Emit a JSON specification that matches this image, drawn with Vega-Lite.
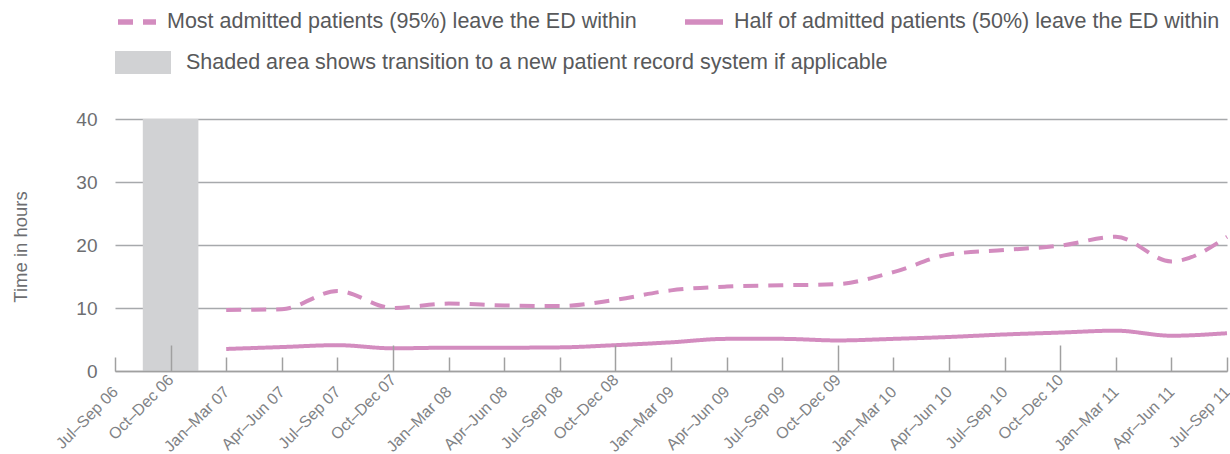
{
  "$schema": "https://vega.github.io/schema/vega-lite/v6.json",
  "width": 1112,
  "height": 252,
  "autosize": {"type": "none"},
  "padding": {"left": 115, "top": 119, "right": 3, "bottom": 83},
  "background": "white",
  "config": {"view": {"stroke": null}, "font": "Liberation Sans"},
  "datasets": {
    "times": [
      {"period": "Jan–Mar 07", "series": "Most admitted patients (95%) leave the ED within", "hours": 9.7},
      {"period": "Apr–Jun 07", "series": "Most admitted patients (95%) leave the ED within", "hours": 9.8},
      {"period": "Jul–Sep 07", "series": "Most admitted patients (95%) leave the ED within", "hours": 12.7},
      {"period": "Oct–Dec 07", "series": "Most admitted patients (95%) leave the ED within", "hours": 10.0},
      {"period": "Jan–Mar 08", "series": "Most admitted patients (95%) leave the ED within", "hours": 10.7},
      {"period": "Apr–Jun 08", "series": "Most admitted patients (95%) leave the ED within", "hours": 10.4},
      {"period": "Jul–Sep 08", "series": "Most admitted patients (95%) leave the ED within", "hours": 10.3},
      {"period": "Oct–Dec 08", "series": "Most admitted patients (95%) leave the ED within", "hours": 11.3},
      {"period": "Jan–Mar 09", "series": "Most admitted patients (95%) leave the ED within", "hours": 12.8},
      {"period": "Apr–Jun 09", "series": "Most admitted patients (95%) leave the ED within", "hours": 13.4},
      {"period": "Jul–Sep 09", "series": "Most admitted patients (95%) leave the ED within", "hours": 13.6},
      {"period": "Oct–Dec 09", "series": "Most admitted patients (95%) leave the ED within", "hours": 13.8},
      {"period": "Jan–Mar 10", "series": "Most admitted patients (95%) leave the ED within", "hours": 15.7},
      {"period": "Apr–Jun 10", "series": "Most admitted patients (95%) leave the ED within", "hours": 18.5},
      {"period": "Jul–Sep 10", "series": "Most admitted patients (95%) leave the ED within", "hours": 19.2},
      {"period": "Oct–Dec 10", "series": "Most admitted patients (95%) leave the ED within", "hours": 19.9},
      {"period": "Jan–Mar 11", "series": "Most admitted patients (95%) leave the ED within", "hours": 21.3},
      {"period": "Apr–Jun 11", "series": "Most admitted patients (95%) leave the ED within", "hours": 17.4},
      {"period": "Jul–Sep 11", "series": "Most admitted patients (95%) leave the ED within", "hours": 21.3},
      {"period": "Jan–Mar 07", "series": "Half of admitted patients (50%) leave the ED within", "hours": 3.5},
      {"period": "Apr–Jun 07", "series": "Half of admitted patients (50%) leave the ED within", "hours": 3.8},
      {"period": "Jul–Sep 07", "series": "Half of admitted patients (50%) leave the ED within", "hours": 4.1},
      {"period": "Oct–Dec 07", "series": "Half of admitted patients (50%) leave the ED within", "hours": 3.6},
      {"period": "Jan–Mar 08", "series": "Half of admitted patients (50%) leave the ED within", "hours": 3.7},
      {"period": "Apr–Jun 08", "series": "Half of admitted patients (50%) leave the ED within", "hours": 3.7},
      {"period": "Jul–Sep 08", "series": "Half of admitted patients (50%) leave the ED within", "hours": 3.75},
      {"period": "Oct–Dec 08", "series": "Half of admitted patients (50%) leave the ED within", "hours": 4.1},
      {"period": "Jan–Mar 09", "series": "Half of admitted patients (50%) leave the ED within", "hours": 4.55},
      {"period": "Apr–Jun 09", "series": "Half of admitted patients (50%) leave the ED within", "hours": 5.1},
      {"period": "Jul–Sep 09", "series": "Half of admitted patients (50%) leave the ED within", "hours": 5.1},
      {"period": "Oct–Dec 09", "series": "Half of admitted patients (50%) leave the ED within", "hours": 4.85},
      {"period": "Jan–Mar 10", "series": "Half of admitted patients (50%) leave the ED within", "hours": 5.1},
      {"period": "Apr–Jun 10", "series": "Half of admitted patients (50%) leave the ED within", "hours": 5.4},
      {"period": "Jul–Sep 10", "series": "Half of admitted patients (50%) leave the ED within", "hours": 5.8},
      {"period": "Oct–Dec 10", "series": "Half of admitted patients (50%) leave the ED within", "hours": 6.1},
      {"period": "Jan–Mar 11", "series": "Half of admitted patients (50%) leave the ED within", "hours": 6.4},
      {"period": "Apr–Jun 11", "series": "Half of admitted patients (50%) leave the ED within", "hours": 5.6},
      {"period": "Jul–Sep 11", "series": "Half of admitted patients (50%) leave the ED within", "hours": 6.0}
    ],
    "shade": [
      {"period": "Oct–Dec 06", "hours": 40, "note": "Shaded area shows transition to a new patient record system if applicable"}
    ]
  },
  "encoding": {
    "x": {
      "field": "period",
      "type": "ordinal",
      "scale": {
        "type": "point",
        "padding": 0,
        "domain": ["Jul–Sep 06", "Oct–Dec 06", "Jan–Mar 07", "Apr–Jun 07", "Jul–Sep 07", "Oct–Dec 07", "Jan–Mar 08", "Apr–Jun 08", "Jul–Sep 08", "Oct–Dec 08", "Jan–Mar 09", "Apr–Jun 09", "Jul–Sep 09", "Oct–Dec 09", "Jan–Mar 10", "Apr–Jun 10", "Jul–Sep 10", "Oct–Dec 10", "Jan–Mar 11", "Apr–Jun 11", "Jul–Sep 11"]
      },
      "axis": {
        "title": null,
        "grid": false,
        "domain": true,
        "domainColor": "#a0a0a0",
        "domainWidth": 1.5,
        "ticks": true,
        "tickColor": "#a0a0a0",
        "tickWidth": 1.5,
        "tickSize": {"condition": {"test": "indexof(datum.value, 'Oct') == 0", "value": -26}, "value": -14},
        "labelAngle": -45,
        "labelAlign": "right",
        "labelBaseline": "middle",
        "labelFontSize": 16,
        "labelColor": "#808285",
        "labelPadding": 32,
        "labelOverlap": false,
        "zindex": 1
      }
    },
    "y": {
      "field": "hours",
      "type": "quantitative",
      "scale": {"domain": [0, 40], "nice": false},
      "axis": {
        "title": "Time in hours",
        "values": [0, 10, 20, 30, 40],
        "grid": true,
        "gridColor": "#a7a9ac",
        "gridWidth": 1.5,
        "domain": false,
        "ticks": false,
        "labelFontSize": 19,
        "labelColor": "#6d6e71",
        "labelPadding": 18,
        "titleFontSize": 18.5,
        "titleFontWeight": "normal",
        "titleColor": "#6d6e71",
        "titleX": -95,
        "titleY": 127.5,
        "titleAngle": -90,
        "titleAlign": "center",
        "titleBaseline": "middle"
      }
    }
  },
  "layer": [
    {
      "data": {"name": "shade"},
      "mark": {"type": "bar", "width": 55.6},
      "encoding": {
        "fill": {
          "field": "note",
          "type": "nominal",
          "scale": {"range": ["#d1d2d4"]},
          "legend": {
            "orient": "none",
            "legendX": 0,
            "legendY": -68,
            "title": null,
            "symbolType": "M-1,-1H3.87V1H-1Z",
            "symbolSize": 529,
            "symbolStrokeWidth": 0,
            "symbolOpacity": 1,
            "labelFontSize": 21.5,
            "labelColor": "#58595b",
            "labelOffset": 48,
            "labelLimit": 0
          }
        }
      }
    },
    {
      "data": {"name": "times"},
      "mark": {"type": "line", "color": "#d38cbf", "strokeWidth": 4, "interpolate": "monotone"},
      "encoding": {
        "strokeDash": {
          "field": "series",
          "type": "nominal",
          "scale": {
            "domain": ["Most admitted patients (95%) leave the ED within", "Half of admitted patients (50%) leave the ED within"],
            "range": [[15, 10], [1, 0]]
          },
          "legend": {
            "orient": "none",
            "legendX": 0,
            "legendY": -119,
            "direction": "horizontal",
            "title": null,
            "symbolType": "stroke",
            "symbolStrokeColor": "#d38cbf",
            "symbolStrokeWidth": 5.5,
            "symbolSize": 1444,
            "labelFontSize": 21.5,
            "labelColor": "#58595b",
            "labelOffset": 8,
            "columnPadding": 37,
            "labelLimit": 0,
            "encode": {
              "symbols": {
                "update": {
                  "strokeDash": {"signal": "indexof(datum.value, 'Most') == 0 ? [11, 5] : [1, 0]"}
                }
              }
            }
          }
        }
      }
    }
  ]
}
